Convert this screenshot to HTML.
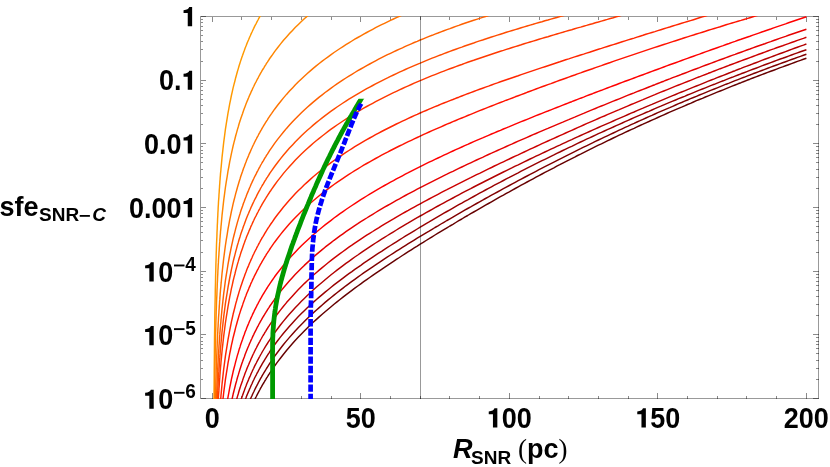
<!DOCTYPE html>
<html><head><meta charset="utf-8"><title>sfe vs R_SNR</title>
<style>html,body{margin:0;padding:0;background:#fff;}body{width:830px;height:467px;overflow:hidden;position:relative;font-family:"Liberation Sans",sans-serif;}</style></head>
<body>
<svg width="830" height="467" viewBox="0 0 830 467" style="display:block;position:absolute;left:0;top:0">
<defs><clipPath id="pc"><rect x="200" y="16" width="619" height="383"/></clipPath><clipPath id="gc"><rect x="200" y="98.8" width="619" height="301"/></clipPath></defs>
<rect width="830" height="467" fill="#fff"/>
<path d="M200.5 16.0V399.0M818.5 16.0V399.0M200.0 16.5H819.0M200.0 398.5H819.0" stroke="#000" stroke-opacity="0.40" stroke-width="1" fill="none" shape-rendering="crispEdges"/>
<path d="M212.5 398.5v-5.3M212.5 16.5v5.3M241.5 398.5v-3.0M241.5 16.5v3.0M271.5 398.5v-3.0M271.5 16.5v3.0M301.5 398.5v-3.0M301.5 16.5v3.0M331.5 398.5v-3.0M331.5 16.5v3.0M360.5 398.5v-5.3M360.5 16.5v5.3M390.5 398.5v-3.0M390.5 16.5v3.0M420.5 398.5v-3.0M420.5 16.5v3.0M449.5 398.5v-3.0M449.5 16.5v3.0M479.5 398.5v-3.0M479.5 16.5v3.0M509.5 398.5v-5.3M509.5 16.5v5.3M539.5 398.5v-3.0M539.5 16.5v3.0M568.5 398.5v-3.0M568.5 16.5v3.0M598.5 398.5v-3.0M598.5 16.5v3.0M628.5 398.5v-3.0M628.5 16.5v3.0M657.5 398.5v-5.3M657.5 16.5v5.3M687.5 398.5v-3.0M687.5 16.5v3.0M717.5 398.5v-3.0M717.5 16.5v3.0M746.5 398.5v-3.0M746.5 16.5v3.0M776.5 398.5v-3.0M776.5 16.5v3.0M806.5 398.5v-5.3M806.5 16.5v5.3M200.5 16.5h5.2M818.5 16.5h-5.2M200.5 61.5h2.6M818.5 61.5h-2.6M200.5 49.5h2.6M818.5 49.5h-2.6M200.5 41.5h2.6M818.5 41.5h-2.6M200.5 35.5h2.6M818.5 35.5h-2.6M200.5 30.5h2.6M818.5 30.5h-2.6M200.5 26.5h2.6M818.5 26.5h-2.6M200.5 22.5h2.6M818.5 22.5h-2.6M200.5 19.5h2.6M818.5 19.5h-2.6M200.5 80.5h5.2M818.5 80.5h-5.2M200.5 124.5h2.6M818.5 124.5h-2.6M200.5 113.5h2.6M818.5 113.5h-2.6M200.5 105.5h2.6M818.5 105.5h-2.6M200.5 99.5h2.6M818.5 99.5h-2.6M200.5 94.5h2.6M818.5 94.5h-2.6M200.5 90.5h2.6M818.5 90.5h-2.6M200.5 86.5h2.6M818.5 86.5h-2.6M200.5 83.5h2.6M818.5 83.5h-2.6M200.5 143.5h5.2M818.5 143.5h-5.2M200.5 188.5h2.6M818.5 188.5h-2.6M200.5 177.5h2.6M818.5 177.5h-2.6M200.5 169.5h2.6M818.5 169.5h-2.6M200.5 162.5h2.6M818.5 162.5h-2.6M200.5 157.5h2.6M818.5 157.5h-2.6M200.5 153.5h2.6M818.5 153.5h-2.6M200.5 150.5h2.6M818.5 150.5h-2.6M200.5 146.5h2.6M818.5 146.5h-2.6M200.5 207.5h5.2M818.5 207.5h-5.2M200.5 252.5h2.6M818.5 252.5h-2.6M200.5 240.5h2.6M818.5 240.5h-2.6M200.5 232.5h2.6M818.5 232.5h-2.6M200.5 226.5h2.6M818.5 226.5h-2.6M200.5 221.5h2.6M818.5 221.5h-2.6M200.5 217.5h2.6M818.5 217.5h-2.6M200.5 213.5h2.6M818.5 213.5h-2.6M200.5 210.5h2.6M818.5 210.5h-2.6M200.5 271.5h5.2M818.5 271.5h-5.2M200.5 315.5h2.6M818.5 315.5h-2.6M200.5 304.5h2.6M818.5 304.5h-2.6M200.5 296.5h2.6M818.5 296.5h-2.6M200.5 290.5h2.6M818.5 290.5h-2.6M200.5 285.5h2.6M818.5 285.5h-2.6M200.5 281.5h2.6M818.5 281.5h-2.6M200.5 277.5h2.6M818.5 277.5h-2.6M200.5 274.5h2.6M818.5 274.5h-2.6M200.5 334.5h5.2M818.5 334.5h-5.2M200.5 379.5h2.6M818.5 379.5h-2.6M200.5 368.5h2.6M818.5 368.5h-2.6M200.5 360.5h2.6M818.5 360.5h-2.6M200.5 353.5h2.6M818.5 353.5h-2.6M200.5 348.5h2.6M818.5 348.5h-2.6M200.5 344.5h2.6M818.5 344.5h-2.6M200.5 341.5h2.6M818.5 341.5h-2.6M200.5 337.5h2.6M818.5 337.5h-2.6M200.5 398.5h5.2M818.5 398.5h-5.2" stroke="#000" stroke-opacity="0.46" stroke-width="1" fill="none" shape-rendering="crispEdges"/>
<g clip-path="url(#pc)" fill="none" stroke-linejoin="round">
<g stroke-width="1.45">
<path d="M213.8 474.9L213.9 424.4L214.1 393.3L214.2 370.7L214.4 353.0L214.5 338.4L214.7 326.0L214.8 315.2L215.0 305.6L215.2 297.1L215.3 289.3L215.5 282.2L215.6 275.7L215.8 269.6L215.9 264.0L216.1 258.7L216.2 253.7L216.4 249.0L216.5 244.6L216.7 240.4L216.9 236.4L217.0 232.5L217.2 228.9L217.3 225.4L217.5 222.0L217.6 218.8L217.8 215.7L217.9 212.7L218.1 209.8L218.2 207.0L218.4 204.3L218.5 201.7L218.7 199.2L218.9 196.7L219.0 194.3L219.2 192.0L219.3 189.7L219.5 187.5L219.6 185.4L219.8 183.3L219.9 181.3L220.1 179.3L220.2 177.3L220.4 175.4L220.5 173.6L220.7 171.8L220.9 170.0L221.0 168.3L221.2 166.6L222.0 157.7L222.9 149.7L223.7 142.4L224.6 135.6L225.4 129.4L226.3 123.6L227.2 118.2L228.0 113.2L228.9 108.4L229.7 103.9L230.6 99.6L231.4 95.5L232.3 91.6L233.1 87.9L234.0 84.4L234.9 81.0L235.7 77.7L236.6 74.5L237.4 71.5L238.3 68.6L239.1 65.8L240.0 63.0L240.8 60.4L241.7 57.8L242.6 55.3L243.4 52.9L244.3 50.6L245.1 48.3L246.0 46.1L246.8 43.9L247.7 41.8L248.6 39.8L249.4 37.8L250.3 35.8L251.1 33.9L252.0 32.0L252.8 30.2L253.7 28.4L254.5 26.6L255.4 24.9L256.3 23.3L257.1 21.6L258.0 20.0L258.8 18.4L259.7 16.9L260.5 15.3L261.4 13.8L262.2 12.4L263.1 10.9L264.0 9.5L264.8 8.1L265.7 6.7L266.5 5.4L267.4 4.0L268.2 2.7L269.1 1.4L269.9 0.2L270.8 -1.1" stroke="rgb(255,153,0)"/>
<path d="M214.1 451.3L214.2 428.8L214.4 411.0L214.5 396.4L214.7 384.0L214.8 373.2L215.0 363.7L215.2 355.1L215.3 347.4L215.5 340.3L215.6 333.7L215.8 327.7L215.9 322.0L216.1 316.7L216.2 311.8L216.4 307.1L216.5 302.7L216.7 298.4L216.9 294.4L217.0 290.6L217.2 287.0L217.3 283.5L217.5 280.1L217.6 276.9L217.8 273.8L217.9 270.8L218.1 267.9L218.2 265.1L218.4 262.4L218.5 259.8L218.7 257.2L218.9 254.8L219.0 252.4L219.2 250.1L219.3 247.8L219.5 245.6L219.6 243.5L219.8 241.4L219.9 239.3L220.1 237.3L220.2 235.4L220.4 233.5L220.5 231.7L220.7 229.8L220.9 228.1L221.0 226.3L221.2 224.6L222.0 215.7L222.9 207.7L223.7 200.4L224.6 193.7L225.4 187.5L226.3 181.7L227.2 176.3L228.0 171.2L228.9 166.5L229.7 161.9L230.6 157.7L231.4 153.6L232.3 149.7L233.1 146.0L234.0 142.4L234.9 139.0L235.7 135.8L236.6 132.6L237.4 129.6L238.3 126.7L239.1 123.8L240.0 121.1L240.8 118.5L241.7 115.9L242.6 113.4L243.4 111.0L244.3 108.6L245.1 106.4L246.0 104.1L246.8 102.0L247.7 99.9L248.6 97.8L249.4 95.8L250.3 93.9L251.1 91.9L252.0 90.1L252.8 88.3L253.7 86.5L254.5 84.7L255.4 83.0L256.3 81.3L257.1 79.7L258.0 78.1L258.8 76.5L259.7 74.9L260.5 73.4L261.4 71.9L262.2 70.4L263.1 69.0L264.0 67.6L264.8 66.2L265.7 64.8L266.5 63.4L267.4 62.1L268.2 60.8L269.1 59.5L269.9 58.2L270.8 57.0L271.7 55.8L274.6 51.6L277.6 47.7L280.6 43.9L283.5 40.3L286.5 36.9L289.5 33.6L292.5 30.4L295.4 27.3L298.4 24.4L301.4 21.5L304.3 18.8L307.3 16.1L310.3 13.5L313.2 11.0L316.2 8.6L319.2 6.2L322.2 3.9L325.1 1.6L328.1 -0.5" stroke="rgb(255,134,0)"/>
<path d="M214.8 431.3L215.0 421.8L215.2 413.2L215.3 405.5L215.5 398.4L215.6 391.8L215.8 385.8L215.9 380.1L216.1 374.8L216.2 369.9L216.4 365.2L216.5 360.7L216.7 356.5L216.9 352.5L217.0 348.7L217.2 345.0L217.3 341.5L217.5 338.2L217.6 334.9L217.8 331.8L217.9 328.8L218.1 326.0L218.2 323.2L218.4 320.5L218.5 317.8L218.7 315.3L218.9 312.8L219.0 310.4L219.2 308.1L219.3 305.9L219.5 303.7L219.6 301.5L219.8 299.4L219.9 297.4L220.1 295.4L220.2 293.4L220.4 291.5L220.5 289.7L220.7 287.9L220.9 286.1L221.0 284.4L221.2 282.7L222.0 273.8L222.9 265.7L223.7 258.4L224.6 251.7L225.4 245.5L226.3 239.7L227.2 234.3L228.0 229.2L228.9 224.4L229.7 219.9L230.6 215.6L231.4 211.5L232.3 207.6L233.1 203.9L234.0 200.3L234.9 196.9L235.7 193.6L236.6 190.5L237.4 187.5L238.3 184.5L239.1 181.7L240.0 179.0L240.8 176.3L241.7 173.7L242.6 171.2L243.4 168.8L244.3 166.5L245.1 164.2L246.0 162.0L246.8 159.8L247.7 157.7L248.6 155.6L249.4 153.6L250.3 151.6L251.1 149.7L252.0 147.8L252.8 146.0L253.7 144.2L254.5 142.5L255.4 140.7L256.3 139.0L257.1 137.4L258.0 135.8L258.8 134.2L259.7 132.6L260.5 131.1L261.4 129.6L262.2 128.1L263.1 126.7L264.0 125.2L264.8 123.8L265.7 122.4L266.5 121.1L267.4 119.8L268.2 118.4L269.1 117.1L269.9 115.9L270.8 114.6L271.7 113.4L274.6 109.2L277.6 105.3L280.6 101.5L283.5 97.9L286.5 94.4L289.5 91.1L292.5 87.9L295.4 84.8L298.4 81.8L301.4 79.0L304.3 76.2L307.3 73.5L310.3 70.9L313.2 68.4L316.2 65.9L319.2 63.5L322.2 61.2L325.1 59.0L328.1 56.8L331.1 54.6L334.0 52.5L337.0 50.5L340.0 48.5L343.0 46.6L345.9 44.7L348.9 42.8L351.9 41.0L354.8 39.2L357.8 37.5L360.8 35.8L363.7 34.1L366.7 32.5L369.7 30.9L372.7 29.3L375.6 27.7L378.6 26.2L381.6 24.7L384.5 23.3L387.5 21.8L390.5 20.4L393.5 19.0L396.4 17.6L399.4 16.3L402.4 15.0L405.3 13.7L408.3 12.4L411.3 11.1L414.2 9.8L417.2 8.6L420.2 7.4L423.2 6.2L426.1 5.0L429.1 3.9L432.1 2.7L435.0 1.6L438.0 0.5L441.0 -0.6" stroke="rgb(255,115,0)"/>
<path d="M215.5 434.0L215.6 427.5L215.8 421.4L215.9 415.7L216.1 410.4L216.2 405.5L216.4 400.8L216.5 396.3L216.7 392.1L216.9 388.1L217.0 384.3L217.2 380.6L217.3 377.1L217.5 373.7L217.6 370.5L217.8 367.4L217.9 364.4L218.1 361.5L218.2 358.7L218.4 355.9L218.5 353.3L218.7 350.8L218.9 348.3L219.0 345.9L219.2 343.6L219.3 341.3L219.5 339.1L219.6 337.0L219.8 334.9L219.9 332.8L220.1 330.8L220.2 328.9L220.4 327.0L220.5 325.1L220.7 323.3L220.9 321.5L221.0 319.7L221.2 318.0L222.0 309.1L222.9 301.1L223.7 293.7L224.6 287.0L225.4 280.7L226.3 274.9L227.2 269.5L228.0 264.4L228.9 259.5L229.7 255.0L230.6 250.7L231.4 246.6L232.3 242.7L233.1 238.9L234.0 235.3L234.9 231.9L235.7 228.6L236.6 225.4L237.4 222.4L238.3 219.4L239.1 216.6L240.0 213.8L240.8 211.1L241.7 208.5L242.6 206.0L243.4 203.6L244.3 201.2L245.1 198.9L246.0 196.7L246.8 194.5L247.7 192.4L248.6 190.3L249.4 188.2L250.3 186.3L251.1 184.3L252.0 182.4L252.8 180.6L253.7 178.8L254.5 177.0L255.4 175.3L256.3 173.6L257.1 171.9L258.0 170.3L258.8 168.7L259.7 167.1L260.5 165.5L261.4 164.0L262.2 162.5L263.1 161.1L264.0 159.6L264.8 158.2L265.7 156.8L266.5 155.4L267.4 154.1L268.2 152.8L269.1 151.4L269.9 150.2L270.8 148.9L271.7 147.6L274.6 143.4L277.6 139.4L280.6 135.6L283.5 132.0L286.5 128.4L289.5 125.1L292.5 121.8L295.4 118.7L298.4 115.7L301.4 112.8L304.3 110.0L307.3 107.3L310.3 104.6L313.2 102.1L316.2 99.6L319.2 97.1L322.2 94.8L325.1 92.5L328.1 90.3L331.1 88.1L334.0 86.0L337.0 83.9L340.0 81.9L343.0 79.9L345.9 78.0L348.9 76.1L351.9 74.3L354.8 72.5L357.8 70.7L360.8 69.0L363.7 67.3L366.7 65.6L369.7 64.0L372.7 62.4L375.6 60.8L378.6 59.2L381.6 57.7L384.5 56.2L387.5 54.7L390.5 53.3L393.5 51.9L396.4 50.5L399.4 49.1L402.4 47.8L405.3 46.4L408.3 45.1L411.3 43.8L414.2 42.5L417.2 41.3L420.2 40.0L423.2 38.8L426.1 37.6L429.1 36.4L432.1 35.3L435.0 34.1L438.0 33.0L441.0 31.8L443.9 30.7L446.9 29.6L449.9 28.6L452.9 27.5L455.8 26.4L458.8 25.4L461.8 24.3L464.7 23.3L467.7 22.3L470.7 21.3L473.7 20.3L476.6 19.4L479.6 18.4L482.6 17.4L485.5 16.5L488.5 15.6L491.5 14.6L494.4 13.7L497.4 12.8L500.4 11.9L503.4 11.0L506.3 10.2L509.3 9.3L512.3 8.4L515.2 7.6L518.2 6.7L521.2 5.9L524.2 5.1L527.1 4.3L530.1 3.5L533.1 2.6L536.0 1.9L539.0 1.1L542.0 0.3L544.9 -0.5" stroke="rgb(255,96,0)"/>
<path d="M216.1 433.5L216.2 428.5L216.4 423.8L216.5 419.4L216.7 415.2L216.9 411.2L217.0 407.3L217.2 403.7L217.3 400.1L217.5 396.8L217.6 393.5L217.8 390.4L217.9 387.4L218.1 384.5L218.2 381.7L218.4 379.0L218.5 376.4L218.7 373.8L218.9 371.4L219.0 369.0L219.2 366.6L219.3 364.4L219.5 362.1L219.6 360.0L219.8 357.9L219.9 355.8L220.1 353.9L220.2 351.9L220.4 350.0L220.5 348.1L220.7 346.3L220.9 344.5L221.0 342.8L221.2 341.1L222.0 332.1L222.9 324.1L223.7 316.7L224.6 310.0L225.4 303.7L226.3 297.9L227.2 292.5L228.0 287.3L228.9 282.5L229.7 278.0L230.6 273.7L231.4 269.6L232.3 265.6L233.1 261.9L234.0 258.3L234.9 254.9L235.7 251.6L236.6 248.4L237.4 245.3L238.3 242.4L239.1 239.5L240.0 236.8L240.8 234.1L241.7 231.5L242.6 229.0L243.4 226.6L244.3 224.2L245.1 221.9L246.0 219.6L246.8 217.5L247.7 215.3L248.6 213.3L249.4 211.2L250.3 209.2L251.1 207.3L252.0 205.4L252.8 203.6L253.7 201.8L254.5 200.0L255.4 198.3L256.3 196.6L257.1 194.9L258.0 193.2L258.8 191.6L259.7 190.1L260.5 188.5L261.4 187.0L262.2 185.5L263.1 184.1L264.0 182.6L264.8 181.2L265.7 179.8L266.5 178.4L267.4 177.1L268.2 175.8L269.1 174.5L269.9 173.2L270.8 171.9L271.7 170.6L274.6 166.5L277.6 162.5L280.6 158.6L283.5 155.0L286.5 151.5L289.5 148.1L292.5 144.9L295.4 141.8L298.4 138.8L301.4 135.8L304.3 133.0L307.3 130.3L310.3 127.7L313.2 125.1L316.2 122.6L319.2 120.2L322.2 117.9L325.1 115.6L328.1 113.4L331.1 111.2L334.0 109.1L337.0 107.0L340.0 105.0L343.0 103.0L345.9 101.1L348.9 99.2L351.9 97.4L354.8 95.6L357.8 93.8L360.8 92.1L363.7 90.4L366.7 88.7L369.7 87.1L372.7 85.5L375.6 83.9L378.6 82.3L381.6 80.8L384.5 79.3L387.5 77.9L390.5 76.4L393.5 75.0L396.4 73.6L399.4 72.2L402.4 70.8L405.3 69.5L408.3 68.2L411.3 66.9L414.2 65.6L417.2 64.3L420.2 63.1L423.2 61.8L426.1 60.6L429.1 59.4L432.1 58.2L435.0 57.1L438.0 55.9L441.0 54.8L443.9 53.6L446.9 52.5L449.9 51.4L452.9 50.3L455.8 49.2L458.8 48.1L461.8 47.1L464.7 46.0L467.7 45.0L470.7 44.0L473.7 43.0L476.6 41.9L479.6 40.9L482.6 40.0L485.5 39.0L488.5 38.0L491.5 37.0L494.4 36.1L497.4 35.1L500.4 34.2L503.4 33.3L506.3 32.3L509.3 31.4L512.3 30.5L515.2 29.6L518.2 28.7L521.2 27.8L524.2 26.9L527.1 26.0L530.1 25.1L533.1 24.3L536.0 23.4L539.0 22.5L542.0 21.7L544.9 20.8L547.9 20.0L550.9 19.1L553.9 18.3L556.8 17.5L559.8 16.6L562.8 15.8L565.7 15.0L568.7 14.2L571.7 13.4L574.7 12.5L577.6 11.7L580.6 10.9L583.6 10.1L586.5 9.3L589.5 8.5L592.5 7.7L595.4 6.9L598.4 6.2L601.4 5.4L604.4 4.6L607.3 3.8L610.3 3.0L613.3 2.2L616.2 1.5L619.2 0.7L622.2 -0.1" stroke="rgb(255,76,0)"/>
<path d="M216.9 430.7L217.0 426.9L217.2 423.2L217.3 419.7L217.5 416.3L217.6 413.1L217.8 410.0L217.9 407.0L218.1 404.0L218.2 401.2L218.4 398.5L218.5 395.9L218.7 393.3L218.9 390.9L219.0 388.5L219.2 386.1L219.3 383.8L219.5 381.6L219.6 379.5L219.8 377.4L219.9 375.3L220.1 373.3L220.2 371.3L220.4 369.4L220.5 367.6L220.7 365.7L220.9 363.9L221.0 362.2L221.2 360.5L222.0 351.5L222.9 343.4L223.7 336.1L224.6 329.3L225.4 323.0L226.3 317.2L227.2 311.7L228.0 306.6L228.9 301.7L229.7 297.2L230.6 292.8L231.4 288.7L232.3 284.8L233.1 281.0L234.0 277.4L234.9 274.0L235.7 270.6L236.6 267.4L237.4 264.4L238.3 261.4L239.1 258.5L240.0 255.8L240.8 253.1L241.7 250.5L242.6 247.9L243.4 245.5L244.3 243.1L245.1 240.8L246.0 238.5L246.8 236.3L247.7 234.2L248.6 232.1L249.4 230.1L250.3 228.1L251.1 226.1L252.0 224.2L252.8 222.4L253.7 220.5L254.5 218.7L255.4 217.0L256.3 215.3L257.1 213.6L258.0 212.0L258.8 210.3L259.7 208.8L260.5 207.2L261.4 205.7L262.2 204.2L263.1 202.7L264.0 201.2L264.8 199.8L265.7 198.4L266.5 197.0L267.4 195.7L268.2 194.3L269.1 193.0L269.9 191.7L270.8 190.5L271.7 189.2L274.6 185.0L277.6 180.9L280.6 177.1L283.5 173.4L286.5 169.9L289.5 166.5L292.5 163.2L295.4 160.1L298.4 157.0L301.4 154.1L304.3 151.3L307.3 148.5L310.3 145.9L313.2 143.3L316.2 140.8L319.2 138.4L322.2 136.0L325.1 133.7L328.1 131.4L331.1 129.2L334.0 127.1L337.0 125.0L340.0 123.0L343.0 121.0L345.9 119.1L348.9 117.2L351.9 115.3L354.8 113.5L357.8 111.7L360.8 109.9L363.7 108.2L366.7 106.5L369.7 104.9L372.7 103.3L375.6 101.7L378.6 100.1L381.6 98.6L384.5 97.1L387.5 95.6L390.5 94.1L393.5 92.7L396.4 91.3L399.4 89.9L402.4 88.5L405.3 87.1L408.3 85.8L411.3 84.5L414.2 83.2L417.2 81.9L420.2 80.6L423.2 79.4L426.1 78.2L429.1 76.9L432.1 75.7L435.0 74.6L438.0 73.4L441.0 72.2L443.9 71.1L446.9 69.9L449.9 68.8L452.9 67.7L455.8 66.6L458.8 65.5L461.8 64.5L464.7 63.4L467.7 62.3L470.7 61.3L473.7 60.3L476.6 59.2L479.6 58.2L482.6 57.2L485.5 56.2L488.5 55.2L491.5 54.2L494.4 53.3L497.4 52.3L500.4 51.3L503.4 50.4L506.3 49.4L509.3 48.5L512.3 47.5L515.2 46.6L518.2 45.7L521.2 44.8L524.2 43.8L527.1 42.9L530.1 42.0L533.1 41.1L536.0 40.2L539.0 39.3L542.0 38.4L544.9 37.5L547.9 36.7L550.9 35.8L553.9 34.9L556.8 34.0L559.8 33.1L562.8 32.3L565.7 31.4L568.7 30.5L571.7 29.7L574.7 28.8L577.6 27.9L580.6 27.1L583.6 26.2L586.5 25.4L589.5 24.5L592.5 23.7L595.4 22.8L598.4 22.0L601.4 21.1L604.4 20.2L607.3 19.4L610.3 18.5L613.3 17.7L616.2 16.8L619.2 16.0L622.2 15.1L625.1 14.3L628.1 13.4L631.1 12.6L634.1 11.7L637.0 10.9L640.0 10.0L643.0 9.2L645.9 8.3L648.9 7.4L651.9 6.6L654.9 5.7L657.8 4.9L660.8 4.0L663.8 3.2L666.7 2.3L669.7 1.4L672.7 0.6L675.6 -0.3" stroke="rgb(255,57,0)"/>
<path d="M218.4 431.3L218.5 428.6L218.7 426.1L218.9 423.6L219.0 421.2L219.2 418.9L219.3 416.6L219.5 414.4L219.6 412.3L219.8 410.2L219.9 408.1L220.1 406.1L220.2 404.2L220.4 402.3L220.5 400.4L220.7 398.6L220.9 396.8L221.0 395.1L221.2 393.4L222.0 384.5L222.9 376.4L223.7 369.1L224.6 362.3L225.4 356.1L226.3 350.3L227.2 344.8L228.0 339.7L228.9 334.9L229.7 330.3L230.6 326.0L231.4 321.9L232.3 318.0L233.1 314.3L234.0 310.7L234.9 307.2L235.7 303.9L236.6 300.8L237.4 297.7L238.3 294.7L239.1 291.9L240.0 289.1L240.8 286.5L241.7 283.9L242.6 281.3L243.4 278.9L244.3 276.5L245.1 274.2L246.0 272.0L246.8 269.8L247.7 267.6L248.6 265.6L249.4 263.5L250.3 261.5L251.1 259.6L252.0 257.7L252.8 255.8L253.7 254.0L254.5 252.3L255.4 250.5L256.3 248.8L257.1 247.1L258.0 245.5L258.8 243.9L259.7 242.3L260.5 240.7L261.4 239.2L262.2 237.7L263.1 236.3L264.0 234.8L264.8 233.4L265.7 232.0L266.5 230.6L267.4 229.2L268.2 227.9L269.1 226.6L269.9 225.3L270.8 224.0L271.7 222.8L274.6 218.5L277.6 214.5L280.6 210.7L283.5 207.0L286.5 203.5L289.5 200.1L292.5 196.8L295.4 193.6L298.4 190.6L301.4 187.7L304.3 184.8L307.3 182.1L310.3 179.4L313.2 176.8L316.2 174.3L319.2 171.8L322.2 169.5L325.1 167.1L328.1 164.9L331.1 162.7L334.0 160.5L337.0 158.4L340.0 156.4L343.0 154.4L345.9 152.4L348.9 150.5L351.9 148.6L354.8 146.7L357.8 144.9L360.8 143.1L363.7 141.4L366.7 139.7L369.7 138.0L372.7 136.3L375.6 134.7L378.6 133.1L381.6 131.5L384.5 130.0L387.5 128.5L390.5 127.0L393.5 125.5L396.4 124.0L399.4 122.6L402.4 121.2L405.3 119.8L408.3 118.4L411.3 117.0L414.2 115.7L417.2 114.4L420.2 113.0L423.2 111.7L426.1 110.5L429.1 109.2L432.1 107.9L435.0 106.7L438.0 105.5L441.0 104.2L443.9 103.0L446.9 101.8L449.9 100.6L452.9 99.5L455.8 98.3L458.8 97.2L461.8 96.0L464.7 94.9L467.7 93.7L470.7 92.6L473.7 91.5L476.6 90.4L479.6 89.3L482.6 88.2L485.5 87.1L488.5 86.1L491.5 85.0L494.4 83.9L497.4 82.9L500.4 81.8L503.4 80.8L506.3 79.8L509.3 78.7L512.3 77.7L515.2 76.7L518.2 75.7L521.2 74.6L524.2 73.6L527.1 72.6L530.1 71.6L533.1 70.6L536.0 69.6L539.0 68.6L542.0 67.6L544.9 66.7L547.9 65.7L550.9 64.7L553.9 63.7L556.8 62.7L559.8 61.8L562.8 60.8L565.7 59.8L568.7 58.9L571.7 57.9L574.7 56.9L577.6 56.0L580.6 55.0L583.6 54.1L586.5 53.1L589.5 52.2L592.5 51.2L595.4 50.3L598.4 49.3L601.4 48.4L604.4 47.4L607.3 46.5L610.3 45.5L613.3 44.6L616.2 43.7L619.2 42.7L622.2 41.8L625.1 40.9L628.1 39.9L631.1 39.0L634.1 38.1L637.0 37.1L640.0 36.2L643.0 35.3L645.9 34.3L648.9 33.4L651.9 32.5L654.9 31.6L657.8 30.6L660.8 29.7L663.8 28.8L666.7 27.9L669.7 27.0L672.7 26.0L675.6 25.1L678.6 24.2L681.6 23.3L684.6 22.4L687.5 21.5L690.5 20.6L693.5 19.7L696.4 18.8L699.4 17.8L702.4 16.9L705.4 16.0L708.3 15.1L711.3 14.2L714.3 13.3L717.2 12.4L720.2 11.5L723.2 10.6L726.1 9.8L729.1 8.9L732.1 8.0L735.1 7.1L738.0 6.2L741.0 5.3L744.0 4.4L746.9 3.5L749.9 2.7L752.9 1.8L755.9 0.9L758.8 0.0L761.8 -0.9" stroke="rgb(255,38,0)"/>
<path d="M219.9 431.7L220.1 429.7L220.2 427.8L220.4 425.9L220.5 424.0L220.7 422.2L220.9 420.4L221.0 418.6L221.2 416.9L222.0 408.0L222.9 399.9L223.7 392.6L224.6 385.8L225.4 379.6L226.3 373.8L227.2 368.3L228.0 363.2L228.9 358.4L229.7 353.8L230.6 349.5L231.4 345.4L232.3 341.5L233.1 337.7L234.0 334.2L234.9 330.7L235.7 327.4L236.6 324.2L237.4 321.2L238.3 318.2L239.1 315.4L240.0 312.6L240.8 310.0L241.7 307.4L242.6 304.9L243.4 302.4L244.3 300.0L245.1 297.7L246.0 295.5L246.8 293.3L247.7 291.2L248.6 289.1L249.4 287.1L250.3 285.1L251.1 283.1L252.0 281.3L252.8 279.4L253.7 277.6L254.5 275.8L255.4 274.1L256.3 272.4L257.1 270.7L258.0 269.1L258.8 267.5L259.7 265.9L260.5 264.3L261.4 262.8L262.2 261.3L263.1 259.9L264.0 258.4L264.8 257.0L265.7 255.6L266.5 254.2L267.4 252.9L268.2 251.6L269.1 250.3L269.9 249.0L270.8 247.7L271.7 246.4L274.6 242.2L277.6 238.2L280.6 234.4L283.5 230.7L286.5 227.2L289.5 223.8L292.5 220.6L295.4 217.5L298.4 214.4L301.4 211.5L304.3 208.7L307.3 205.9L310.3 203.3L313.2 200.7L316.2 198.2L319.2 195.8L322.2 193.4L325.1 191.1L328.1 188.8L331.1 186.6L334.0 184.5L337.0 182.3L340.0 180.3L343.0 178.3L345.9 176.3L348.9 174.4L351.9 172.5L354.8 170.6L357.8 168.8L360.8 167.0L363.7 165.2L366.7 163.5L369.7 161.8L372.7 160.1L375.6 158.5L378.6 156.8L381.6 155.2L384.5 153.6L387.5 152.1L390.5 150.5L393.5 149.0L396.4 147.5L399.4 146.0L402.4 144.6L405.3 143.1L408.3 141.7L411.3 140.3L414.2 138.9L417.2 137.5L420.2 136.1L423.2 134.7L426.1 133.4L429.1 132.0L432.1 130.7L435.0 129.4L438.0 128.1L441.0 126.8L443.9 125.5L446.9 124.2L449.9 123.0L452.9 121.7L455.8 120.5L458.8 119.2L461.8 118.0L464.7 116.8L467.7 115.5L470.7 114.3L473.7 113.1L476.6 111.9L479.6 110.7L482.6 109.5L485.5 108.4L488.5 107.2L491.5 106.0L494.4 104.9L497.4 103.7L500.4 102.5L503.4 101.4L506.3 100.2L509.3 99.1L512.3 98.0L515.2 96.8L518.2 95.7L521.2 94.6L524.2 93.5L527.1 92.3L530.1 91.2L533.1 90.1L536.0 89.0L539.0 87.9L542.0 86.8L544.9 85.7L547.9 84.6L550.9 83.6L553.9 82.5L556.8 81.4L559.8 80.3L562.8 79.2L565.7 78.2L568.7 77.1L571.7 76.0L574.7 75.0L577.6 73.9L580.6 72.9L583.6 71.8L586.5 70.8L589.5 69.7L592.5 68.7L595.4 67.6L598.4 66.6L601.4 65.6L604.4 64.5L607.3 63.5L610.3 62.5L613.3 61.4L616.2 60.4L619.2 59.4L622.2 58.4L625.1 57.4L628.1 56.4L631.1 55.4L634.1 54.4L637.0 53.4L640.0 52.4L643.0 51.4L645.9 50.4L648.9 49.4L651.9 48.4L654.9 47.4L657.8 46.5L660.8 45.5L663.8 44.5L666.7 43.6L669.7 42.6L672.7 41.6L675.6 40.7L678.6 39.7L681.6 38.8L684.6 37.8L687.5 36.9L690.5 35.9L693.5 35.0L696.4 34.0L699.4 33.1L702.4 32.2L705.4 31.3L708.3 30.3L711.3 29.4L714.3 28.5L717.2 27.6L720.2 26.7L723.2 25.7L726.1 24.8L729.1 23.9L732.1 23.0L735.1 22.1L738.0 21.2L741.0 20.4L744.0 19.5L746.9 18.6L749.9 17.7L752.9 16.8L755.9 15.9L758.8 15.1L761.8 14.2L764.8 13.3L767.7 12.5L770.7 11.6L773.7 10.7L776.6 9.9L779.6 9.0L782.6 8.2L785.6 7.3L788.5 6.5L791.5 5.7L794.5 4.8L797.4 4.0L800.4 3.2L803.4 2.3L806.4 1.5" stroke="rgb(255,19,0)"/>
<path d="M222.9 433.6L223.7 426.3L224.6 419.6L225.4 413.4L226.3 407.6L227.2 402.2L228.0 397.1L228.9 392.3L229.7 387.8L230.6 383.5L231.4 379.4L232.3 375.5L233.1 371.8L234.0 368.3L234.9 364.9L235.7 361.6L236.6 358.4L237.4 355.4L238.3 352.5L239.1 349.6L240.0 346.9L240.8 344.2L241.7 341.7L242.6 339.2L243.4 336.7L244.3 334.4L245.1 332.1L246.0 329.9L246.8 327.7L247.7 325.6L248.6 323.5L249.4 321.5L250.3 319.5L251.1 317.6L252.0 315.7L252.8 313.9L253.7 312.1L254.5 310.3L255.4 308.6L256.3 306.9L257.1 305.2L258.0 303.6L258.8 302.0L259.7 300.4L260.5 298.9L261.4 297.4L262.2 295.9L263.1 294.4L264.0 293.0L264.8 291.6L265.7 290.2L266.5 288.8L267.4 287.5L268.2 286.1L269.1 284.8L269.9 283.6L270.8 282.3L271.7 281.0L274.6 276.8L277.6 272.8L280.6 269.0L283.5 265.3L286.5 261.7L289.5 258.3L292.5 255.1L295.4 251.9L298.4 248.8L301.4 245.8L304.3 243.0L307.3 240.2L310.3 237.5L313.2 234.8L316.2 232.2L319.2 229.7L322.2 227.3L325.1 224.9L328.1 222.6L331.1 220.3L334.0 218.0L337.0 215.9L340.0 213.7L343.0 211.6L345.9 209.5L348.9 207.5L351.9 205.5L354.8 203.6L357.8 201.6L360.8 199.7L363.7 197.9L366.7 196.0L369.7 194.2L372.7 192.4L375.6 190.7L378.6 188.9L381.6 187.2L384.5 185.5L387.5 183.8L390.5 182.2L393.5 180.6L396.4 178.9L399.4 177.4L402.4 175.8L405.3 174.2L408.3 172.7L411.3 171.1L414.2 169.6L417.2 168.1L420.2 166.6L423.2 165.1L426.1 163.7L429.1 162.2L432.1 160.8L435.0 159.4L438.0 158.0L441.0 156.6L443.9 155.2L446.9 153.8L449.9 152.4L452.9 151.0L455.8 149.7L458.8 148.3L461.8 147.0L464.7 145.7L467.7 144.4L470.7 143.0L473.7 141.7L476.6 140.4L479.6 139.1L482.6 137.9L485.5 136.6L488.5 135.3L491.5 134.0L494.4 132.8L497.4 131.5L500.4 130.3L503.4 129.0L506.3 127.8L509.3 126.6L512.3 125.3L515.2 124.1L518.2 122.9L521.2 121.7L524.2 120.5L527.1 119.3L530.1 118.1L533.1 116.9L536.0 115.7L539.0 114.5L542.0 113.3L544.9 112.1L547.9 111.0L550.9 109.8L553.9 108.6L556.8 107.5L559.8 106.3L562.8 105.1L565.7 104.0L568.7 102.8L571.7 101.7L574.7 100.5L577.6 99.4L580.6 98.2L583.6 97.1L586.5 95.9L589.5 94.8L592.5 93.7L595.4 92.5L598.4 91.4L601.4 90.3L604.4 89.1L607.3 88.0L610.3 86.9L613.3 85.8L616.2 84.7L619.2 83.5L622.2 82.4L625.1 81.3L628.1 80.2L631.1 79.1L634.1 78.0L637.0 76.9L640.0 75.8L643.0 74.7L645.9 73.6L648.9 72.5L651.9 71.4L654.9 70.3L657.8 69.2L660.8 68.1L663.8 67.0L666.7 65.9L669.7 64.8L672.7 63.7L675.6 62.7L678.6 61.6L681.6 60.5L684.6 59.4L687.5 58.4L690.5 57.3L693.5 56.2L696.4 55.1L699.4 54.1L702.4 53.0L705.4 51.9L708.3 50.9L711.3 49.8L714.3 48.7L717.2 47.7L720.2 46.6L723.2 45.6L726.1 44.5L729.1 43.5L732.1 42.4L735.1 41.4L738.0 40.3L741.0 39.3L744.0 38.2L746.9 37.2L749.9 36.2L752.9 35.1L755.9 34.1L758.8 33.1L761.8 32.0L764.8 31.0L767.7 30.0L770.7 29.0L773.7 27.9L776.6 26.9L779.6 25.9L782.6 24.9L785.6 23.9L788.5 22.8L791.5 21.8L794.5 20.8L797.4 19.8L800.4 18.8L803.4 17.8L806.4 16.8" stroke="rgb(255,0,0)"/>
<path d="M226.3 430.0L227.2 424.6L228.0 419.6L228.9 414.8L229.7 410.2L230.6 406.0L231.4 401.9L232.3 398.0L233.1 394.3L234.0 390.7L234.9 387.3L235.7 384.0L236.6 380.9L237.4 377.8L238.3 374.9L239.1 372.1L240.0 369.3L240.8 366.7L241.7 364.1L242.6 361.6L243.4 359.2L244.3 356.9L245.1 354.6L246.0 352.3L246.8 350.2L247.7 348.0L248.6 346.0L249.4 344.0L250.3 342.0L251.1 340.1L252.0 338.2L252.8 336.4L253.7 334.6L254.5 332.8L255.4 331.1L256.3 329.4L257.1 327.7L258.0 326.1L258.8 324.5L259.7 322.9L260.5 321.4L261.4 319.9L262.2 318.4L263.1 316.9L264.0 315.5L264.8 314.1L265.7 312.7L266.5 311.3L267.4 310.0L268.2 308.6L269.1 307.3L269.9 306.0L270.8 304.8L271.7 303.5L274.6 299.3L277.6 295.3L280.6 291.4L283.5 287.7L286.5 284.2L289.5 280.8L292.5 277.5L295.4 274.3L298.4 271.3L301.4 268.3L304.3 265.4L307.3 262.6L310.3 259.9L313.2 257.2L316.2 254.6L319.2 252.1L322.2 249.6L325.1 247.2L328.1 244.9L331.1 242.6L334.0 240.3L337.0 238.1L340.0 235.9L343.0 233.8L345.9 231.7L348.9 229.6L351.9 227.6L354.8 225.6L357.8 223.7L360.8 221.7L363.7 219.8L366.7 218.0L369.7 216.1L372.7 214.3L375.6 212.5L378.6 210.7L381.6 208.9L384.5 207.2L387.5 205.5L390.5 203.8L393.5 202.1L396.4 200.4L399.4 198.8L402.4 197.1L405.3 195.5L408.3 193.9L411.3 192.3L414.2 190.8L417.2 189.2L420.2 187.6L423.2 186.1L426.1 184.6L429.1 183.1L432.1 181.6L435.0 180.1L438.0 178.6L441.0 177.1L443.9 175.6L446.9 174.2L449.9 172.7L452.9 171.3L455.8 169.8L458.8 168.4L461.8 167.0L464.7 165.6L467.7 164.2L470.7 162.8L473.7 161.4L476.6 160.0L479.6 158.6L482.6 157.3L485.5 155.9L488.5 154.5L491.5 153.2L494.4 151.8L497.4 150.5L500.4 149.2L503.4 147.8L506.3 146.5L509.3 145.2L512.3 143.9L515.2 142.5L518.2 141.2L521.2 139.9L524.2 138.6L527.1 137.3L530.1 136.0L533.1 134.7L536.0 133.5L539.0 132.2L542.0 130.9L544.9 129.6L547.9 128.4L550.9 127.1L553.9 125.8L556.8 124.6L559.8 123.3L562.8 122.1L565.7 120.8L568.7 119.6L571.7 118.3L574.7 117.1L577.6 115.8L580.6 114.6L583.6 113.4L586.5 112.1L589.5 110.9L592.5 109.7L595.4 108.5L598.4 107.2L601.4 106.0L604.4 104.8L607.3 103.6L610.3 102.4L613.3 101.2L616.2 100.0L619.2 98.8L622.2 97.6L625.1 96.4L628.1 95.2L631.1 94.0L634.1 92.9L637.0 91.7L640.0 90.5L643.0 89.3L645.9 88.2L648.9 87.0L651.9 85.8L654.9 84.7L657.8 83.5L660.8 82.3L663.8 81.2L666.7 80.0L669.7 78.9L672.7 77.7L675.6 76.6L678.6 75.5L681.6 74.3L684.6 73.2L687.5 72.1L690.5 70.9L693.5 69.8L696.4 68.7L699.4 67.6L702.4 66.4L705.4 65.3L708.3 64.2L711.3 63.1L714.3 62.0L717.2 60.9L720.2 59.8L723.2 58.7L726.1 57.6L729.1 56.5L732.1 55.4L735.1 54.4L738.0 53.3L741.0 52.2L744.0 51.1L746.9 50.0L749.9 49.0L752.9 47.9L755.9 46.8L758.8 45.8L761.8 44.7L764.8 43.7L767.7 42.6L770.7 41.6L773.7 40.5L776.6 39.5L779.6 38.4L782.6 37.4L785.6 36.4L788.5 35.3L791.5 34.3L794.5 33.3L797.4 32.3L800.4 31.2L803.4 30.2L806.4 29.2" stroke="rgb(230,0,0)"/>
<path d="M228.9 433.5L229.7 429.0L230.6 424.7L231.4 420.6L232.3 416.8L233.1 413.0L234.0 409.5L234.9 406.1L235.7 402.8L236.6 399.6L237.4 396.6L238.3 393.7L239.1 390.8L240.0 388.1L240.8 385.4L241.7 382.9L242.6 380.4L243.4 377.9L244.3 375.6L245.1 373.3L246.0 371.1L246.8 368.9L247.7 366.8L248.6 364.7L249.4 362.7L250.3 360.7L251.1 358.8L252.0 356.9L252.8 355.0L253.7 353.2L254.5 351.5L255.4 349.7L256.3 348.0L257.1 346.4L258.0 344.7L258.8 343.1L259.7 341.6L260.5 340.0L261.4 338.5L262.2 337.0L263.1 335.5L264.0 334.1L264.8 332.7L265.7 331.3L266.5 329.9L267.4 328.5L268.2 327.2L269.1 325.9L269.9 324.6L270.8 323.3L271.7 322.1L274.6 317.8L277.6 313.8L280.6 309.9L283.5 306.2L286.5 302.6L289.5 299.2L292.5 295.9L295.4 292.7L298.4 289.6L301.4 286.5L304.3 283.6L307.3 280.8L310.3 278.0L313.2 275.3L316.2 272.7L319.2 270.1L322.2 267.6L325.1 265.2L328.1 262.8L331.1 260.4L334.0 258.1L337.0 255.9L340.0 253.7L343.0 251.5L345.9 249.3L348.9 247.2L351.9 245.2L354.8 243.1L357.8 241.1L360.8 239.1L363.7 237.2L366.7 235.2L369.7 233.3L372.7 231.5L375.6 229.6L378.6 227.8L381.6 225.9L384.5 224.1L387.5 222.4L390.5 220.6L393.5 218.9L396.4 217.1L399.4 215.4L402.4 213.7L405.3 212.0L408.3 210.4L411.3 208.7L414.2 207.1L417.2 205.4L420.2 203.8L423.2 202.2L426.1 200.6L429.1 199.0L432.1 197.4L435.0 195.9L438.0 194.3L441.0 192.7L443.9 191.2L446.9 189.7L449.9 188.1L452.9 186.6L455.8 185.1L458.8 183.6L461.8 182.1L464.7 180.6L467.7 179.1L470.7 177.7L473.7 176.2L476.6 174.7L479.6 173.3L482.6 171.8L485.5 170.4L488.5 168.9L491.5 167.5L494.4 166.0L497.4 164.6L500.4 163.2L503.4 161.8L506.3 160.4L509.3 159.0L512.3 157.5L515.2 156.1L518.2 154.8L521.2 153.4L524.2 152.0L527.1 150.6L530.1 149.2L533.1 147.8L536.0 146.5L539.0 145.1L542.0 143.7L544.9 142.4L547.9 141.0L550.9 139.7L553.9 138.3L556.8 137.0L559.8 135.6L562.8 134.3L565.7 133.0L568.7 131.6L571.7 130.3L574.7 129.0L577.6 127.7L580.6 126.3L583.6 125.0L586.5 123.7L589.5 122.4L592.5 121.1L595.4 119.8L598.4 118.5L601.4 117.2L604.4 116.0L607.3 114.7L610.3 113.4L613.3 112.1L616.2 110.8L619.2 109.6L622.2 108.3L625.1 107.1L628.1 105.8L631.1 104.5L634.1 103.3L637.0 102.1L640.0 100.8L643.0 99.6L645.9 98.3L648.9 97.1L651.9 95.9L654.9 94.7L657.8 93.4L660.8 92.2L663.8 91.0L666.7 89.8L669.7 88.6L672.7 87.4L675.6 86.2L678.6 85.0L681.6 83.8L684.6 82.6L687.5 81.5L690.5 80.3L693.5 79.1L696.4 77.9L699.4 76.8L702.4 75.6L705.4 74.5L708.3 73.3L711.3 72.2L714.3 71.0L717.2 69.9L720.2 68.7L723.2 67.6L726.1 66.5L729.1 65.3L732.1 64.2L735.1 63.1L738.0 62.0L741.0 60.9L744.0 59.8L746.9 58.7L749.9 57.6L752.9 56.5L755.9 55.4L758.8 54.3L761.8 53.2L764.8 52.1L767.7 51.0L770.7 49.9L773.7 48.9L776.6 47.8L779.6 46.7L782.6 45.7L785.6 44.6L788.5 43.6L791.5 42.5L794.5 41.5L797.4 40.4L800.4 39.4L803.4 38.4L806.4 37.3" stroke="rgb(204,0,0)"/>
<path d="M232.3 431.7L233.1 428.0L234.0 424.4L234.9 421.0L235.7 417.7L236.6 414.6L237.4 411.5L238.3 408.6L239.1 405.8L240.0 403.0L240.8 400.4L241.7 397.8L242.6 395.3L243.4 392.9L244.3 390.5L245.1 388.2L246.0 386.0L246.8 383.8L247.7 381.7L248.6 379.6L249.4 377.6L250.3 375.7L251.1 373.7L252.0 371.8L252.8 370.0L253.7 368.2L254.5 366.4L255.4 364.7L256.3 363.0L257.1 361.3L258.0 359.7L258.8 358.1L259.7 356.5L260.5 355.0L261.4 353.5L262.2 352.0L263.1 350.5L264.0 349.0L264.8 347.6L265.7 346.2L266.5 344.9L267.4 343.5L268.2 342.2L269.1 340.8L269.9 339.6L270.8 338.3L271.7 337.0L274.6 332.8L277.6 328.7L280.6 324.8L283.5 321.1L286.5 317.5L289.5 314.1L292.5 310.7L295.4 307.5L298.4 304.4L301.4 301.3L304.3 298.4L307.3 295.5L310.3 292.7L313.2 290.0L316.2 287.3L319.2 284.7L322.2 282.2L325.1 279.7L328.1 277.2L331.1 274.8L334.0 272.5L337.0 270.2L340.0 267.9L343.0 265.6L345.9 263.4L348.9 261.3L351.9 259.1L354.8 257.0L357.8 255.0L360.8 252.9L363.7 250.9L366.7 248.9L369.7 246.9L372.7 244.9L375.6 243.0L378.6 241.1L381.6 239.2L384.5 237.3L387.5 235.5L390.5 233.6L393.5 231.8L396.4 230.0L399.4 228.2L402.4 226.4L405.3 224.6L408.3 222.9L411.3 221.1L414.2 219.4L417.2 217.7L420.2 216.0L423.2 214.3L426.1 212.6L429.1 211.0L432.1 209.3L435.0 207.7L438.0 206.0L441.0 204.4L443.9 202.8L446.9 201.2L449.9 199.6L452.9 198.0L455.8 196.4L458.8 194.8L461.8 193.2L464.7 191.7L467.7 190.1L470.7 188.6L473.7 187.0L476.6 185.5L479.6 184.0L482.6 182.5L485.5 181.0L488.5 179.5L491.5 178.0L494.4 176.5L497.4 175.0L500.4 173.5L503.4 172.0L506.3 170.6L509.3 169.1L512.3 167.7L515.2 166.2L518.2 164.8L521.2 163.3L524.2 161.9L527.1 160.5L530.1 159.0L533.1 157.6L536.0 156.2L539.0 154.8L542.0 153.4L544.9 152.0L547.9 150.6L550.9 149.2L553.9 147.8L556.8 146.4L559.8 145.1L562.8 143.7L565.7 142.3L568.7 140.9L571.7 139.6L574.7 138.2L577.6 136.9L580.6 135.5L583.6 134.2L586.5 132.9L589.5 131.5L592.5 130.2L595.4 128.9L598.4 127.5L601.4 126.2L604.4 124.9L607.3 123.6L610.3 122.3L613.3 121.0L616.2 119.7L619.2 118.4L622.2 117.1L625.1 115.8L628.1 114.5L631.1 113.2L634.1 112.0L637.0 110.7L640.0 109.4L643.0 108.2L645.9 106.9L648.9 105.6L651.9 104.4L654.9 103.1L657.8 101.9L660.8 100.6L663.8 99.4L666.7 98.2L669.7 96.9L672.7 95.7L675.6 94.5L678.6 93.2L681.6 92.0L684.6 90.8L687.5 89.6L690.5 88.4L693.5 87.2L696.4 86.0L699.4 84.8L702.4 83.6L705.4 82.4L708.3 81.2L711.3 80.0L714.3 78.9L717.2 77.7L720.2 76.5L723.2 75.3L726.1 74.2L729.1 73.0L732.1 71.8L735.1 70.7L738.0 69.5L741.0 68.4L744.0 67.2L746.9 66.1L749.9 65.0L752.9 63.8L755.9 62.7L758.8 61.6L761.8 60.4L764.8 59.3L767.7 58.2L770.7 57.1L773.7 56.0L776.6 54.9L779.6 53.8L782.6 52.7L785.6 51.6L788.5 50.5L791.5 49.4L794.5 48.3L797.4 47.2L800.4 46.1L803.4 45.1L806.4 44.0" stroke="rgb(178,0,0)"/>
<path d="M234.9 432.7L235.7 429.5L236.6 426.3L237.4 423.3L238.3 420.3L239.1 417.5L240.0 414.8L240.8 412.1L241.7 409.6L242.6 407.1L243.4 404.6L244.3 402.3L245.1 400.0L246.0 397.8L246.8 395.6L247.7 393.5L248.6 391.4L249.4 389.4L250.3 387.5L251.1 385.5L252.0 383.7L252.8 381.8L253.7 380.0L254.5 378.3L255.4 376.5L256.3 374.8L257.1 373.2L258.0 371.6L258.8 370.0L259.7 368.4L260.5 366.9L261.4 365.3L262.2 363.9L263.1 362.4L264.0 361.0L264.8 359.6L265.7 358.2L266.5 356.8L267.4 355.4L268.2 354.1L269.1 352.8L269.9 351.5L270.8 350.3L271.7 349.0L274.6 344.8L277.6 340.8L280.6 336.9L283.5 333.2L286.5 329.7L289.5 326.2L292.5 322.9L295.4 319.7L298.4 316.6L301.4 313.6L304.3 310.7L307.3 307.8L310.3 305.1L313.2 302.4L316.2 299.7L319.2 297.1L322.2 294.6L325.1 292.1L328.1 289.7L331.1 287.3L334.0 284.9L337.0 282.6L340.0 280.3L343.0 278.1L345.9 275.9L348.9 273.7L351.9 271.6L354.8 269.4L357.8 267.3L360.8 265.3L363.7 263.2L366.7 261.2L369.7 259.1L372.7 257.1L375.6 255.2L378.6 253.2L381.6 251.3L384.5 249.3L387.5 247.4L390.5 245.5L393.5 243.6L396.4 241.8L399.4 239.9L402.4 238.0L405.3 236.2L408.3 234.4L411.3 232.6L414.2 230.8L417.2 229.0L420.2 227.2L423.2 225.4L426.1 223.6L429.1 221.9L432.1 220.1L435.0 218.4L438.0 216.6L441.0 214.9L443.9 213.2L446.9 211.5L449.9 209.8L452.9 208.1L455.8 206.4L458.8 204.7L461.8 203.1L464.7 201.4L467.7 199.8L470.7 198.1L473.7 196.5L476.6 194.9L479.6 193.2L482.6 191.6L485.5 190.0L488.5 188.4L491.5 186.8L494.4 185.2L497.4 183.6L500.4 182.1L503.4 180.5L506.3 178.9L509.3 177.4L512.3 175.8L515.2 174.3L518.2 172.8L521.2 171.2L524.2 169.7L527.1 168.2L530.1 166.7L533.1 165.2L536.0 163.7L539.0 162.2L542.0 160.7L544.9 159.3L547.9 157.8L550.9 156.3L553.9 154.9L556.8 153.4L559.8 152.0L562.8 150.5L565.7 149.1L568.7 147.7L571.7 146.3L574.7 144.8L577.6 143.4L580.6 142.0L583.6 140.6L586.5 139.2L589.5 137.9L592.5 136.5L595.4 135.1L598.4 133.7L601.4 132.4L604.4 131.0L607.3 129.7L610.3 128.3L613.3 127.0L616.2 125.6L619.2 124.3L622.2 123.0L625.1 121.6L628.1 120.3L631.1 119.0L634.1 117.7L637.0 116.4L640.0 115.1L643.0 113.8L645.9 112.5L648.9 111.3L651.9 110.0L654.9 108.7L657.8 107.4L660.8 106.2L663.8 104.9L666.7 103.7L669.7 102.4L672.7 101.2L675.6 100.0L678.6 98.7L681.6 97.5L684.6 96.3L687.5 95.0L690.5 93.8L693.5 92.6L696.4 91.4L699.4 90.2L702.4 89.0L705.4 87.8L708.3 86.6L711.3 85.4L714.3 84.3L717.2 83.1L720.2 81.9L723.2 80.8L726.1 79.6L729.1 78.4L732.1 77.3L735.1 76.1L738.0 75.0L741.0 73.8L744.0 72.7L746.9 71.6L749.9 70.4L752.9 69.3L755.9 68.2L758.8 67.1L761.8 65.9L764.8 64.8L767.7 63.7L770.7 62.6L773.7 61.5L776.6 60.4L779.6 59.3L782.6 58.3L785.6 57.2L788.5 56.1L791.5 55.0L794.5 53.9L797.4 52.9L800.4 51.8L803.4 50.7L806.4 49.7" stroke="rgb(153,0,0)"/>
<path d="M238.3 432.5L239.1 429.7L240.0 426.9L240.8 424.3L241.7 421.7L242.6 419.2L243.4 416.8L244.3 414.4L245.1 412.1L246.0 409.9L246.8 407.7L247.7 405.5L248.6 403.5L249.4 401.4L250.3 399.5L251.1 397.5L252.0 395.6L252.8 393.8L253.7 392.0L254.5 390.2L255.4 388.4L256.3 386.7L257.1 385.1L258.0 383.4L258.8 381.8L259.7 380.2L260.5 378.7L261.4 377.1L262.2 375.6L263.1 374.2L264.0 372.7L264.8 371.3L265.7 369.9L266.5 368.5L267.4 367.1L268.2 365.8L269.1 364.4L269.9 363.1L270.8 361.8L271.7 360.6L274.6 356.3L277.6 352.2L280.6 348.3L283.5 344.5L286.5 340.9L289.5 337.4L292.5 334.0L295.4 330.7L298.4 327.5L301.4 324.5L304.3 321.5L307.3 318.5L310.3 315.7L313.2 312.9L316.2 310.2L319.2 307.6L322.2 305.0L325.1 302.4L328.1 299.9L331.1 297.5L334.0 295.1L337.0 292.7L340.0 290.4L343.0 288.1L345.9 285.8L348.9 283.6L351.9 281.4L354.8 279.3L357.8 277.1L360.8 275.0L363.7 272.9L366.7 270.8L369.7 268.8L372.7 266.8L375.6 264.8L378.6 262.8L381.6 260.8L384.5 258.8L387.5 256.9L390.5 255.0L393.5 253.1L396.4 251.2L399.4 249.3L402.4 247.4L405.3 245.6L408.3 243.7L411.3 241.9L414.2 240.1L417.2 238.2L420.2 236.4L423.2 234.6L426.1 232.8L429.1 231.1L432.1 229.3L435.0 227.5L438.0 225.8L441.0 224.0L443.9 222.3L446.9 220.5L449.9 218.8L452.9 217.1L455.8 215.4L458.8 213.6L461.8 211.9L464.7 210.2L467.7 208.5L470.7 206.9L473.7 205.2L476.6 203.5L479.6 201.8L482.6 200.2L485.5 198.5L488.5 196.9L491.5 195.2L494.4 193.6L497.4 192.0L500.4 190.3L503.4 188.7L506.3 187.1L509.3 185.5L512.3 183.9L515.2 182.3L518.2 180.7L521.2 179.1L524.2 177.5L527.1 176.0L530.1 174.4L533.1 172.8L536.0 171.3L539.0 169.7L542.0 168.2L544.9 166.7L547.9 165.1L550.9 163.6L553.9 162.1L556.8 160.6L559.8 159.1L562.8 157.6L565.7 156.1L568.7 154.6L571.7 153.1L574.7 151.6L577.6 150.1L580.6 148.7L583.6 147.2L586.5 145.8L589.5 144.3L592.5 142.9L595.4 141.4L598.4 140.0L601.4 138.6L604.4 137.2L607.3 135.8L610.3 134.4L613.3 133.0L616.2 131.6L619.2 130.2L622.2 128.8L625.1 127.4L628.1 126.1L631.1 124.7L634.1 123.4L637.0 122.0L640.0 120.7L643.0 119.3L645.9 118.0L648.9 116.7L651.9 115.4L654.9 114.0L657.8 112.7L660.8 111.4L663.8 110.1L666.7 108.8L669.7 107.6L672.7 106.3L675.6 105.0L678.6 103.7L681.6 102.5L684.6 101.2L687.5 100.0L690.5 98.7L693.5 97.5L696.4 96.3L699.4 95.0L702.4 93.8L705.4 92.6L708.3 91.4L711.3 90.2L714.3 89.0L717.2 87.8L720.2 86.6L723.2 85.4L726.1 84.2L729.1 83.1L732.1 81.9L735.1 80.7L738.0 79.6L741.0 78.4L744.0 77.3L746.9 76.1L749.9 75.0L752.9 73.8L755.9 72.7L758.8 71.6L761.8 70.5L764.8 69.4L767.7 68.3L770.7 67.1L773.7 66.0L776.6 65.0L779.6 63.9L782.6 62.8L785.6 61.7L788.5 60.6L791.5 59.5L794.5 58.5L797.4 57.4L800.4 56.4L803.4 55.3L806.4 54.3" stroke="rgb(128,0,0)"/>
<path d="M241.7 431.5L242.6 429.0L243.4 426.6L244.3 424.2L245.1 421.9L246.0 419.7L246.8 417.5L247.7 415.4L248.6 413.3L249.4 411.3L250.3 409.3L251.1 407.3L252.0 405.4L252.8 403.6L253.7 401.8L254.5 400.0L255.4 398.2L256.3 396.5L257.1 394.9L258.0 393.2L258.8 391.6L259.7 390.0L260.5 388.4L261.4 386.9L262.2 385.4L263.1 383.9L264.0 382.5L264.8 381.0L265.7 379.6L266.5 378.2L267.4 376.9L268.2 375.5L269.1 374.2L269.9 372.9L270.8 371.6L271.7 370.3L274.6 366.0L277.6 361.9L280.6 358.0L283.5 354.2L286.5 350.5L289.5 347.0L292.5 343.6L295.4 340.3L298.4 337.1L301.4 334.0L304.3 331.0L307.3 328.0L310.3 325.1L313.2 322.3L316.2 319.6L319.2 316.9L322.2 314.3L325.1 311.7L328.1 309.2L331.1 306.7L334.0 304.3L337.0 301.9L340.0 299.5L343.0 297.2L345.9 294.9L348.9 292.6L351.9 290.4L354.8 288.2L357.8 286.0L360.8 283.8L363.7 281.7L366.7 279.6L369.7 277.5L372.7 275.4L375.6 273.3L378.6 271.3L381.6 269.3L384.5 267.3L387.5 265.3L390.5 263.3L393.5 261.3L396.4 259.4L399.4 257.5L402.4 255.5L405.3 253.6L408.3 251.7L411.3 249.8L414.2 247.9L417.2 246.1L420.2 244.2L423.2 242.4L426.1 240.5L429.1 238.7L432.1 236.8L435.0 235.0L438.0 233.2L441.0 231.4L443.9 229.6L446.9 227.8L449.9 226.0L452.9 224.3L455.8 222.5L458.8 220.7L461.8 219.0L464.7 217.2L467.7 215.5L470.7 213.7L473.7 212.0L476.6 210.3L479.6 208.6L482.6 206.9L485.5 205.2L488.5 203.5L491.5 201.8L494.4 200.1L497.4 198.4L500.4 196.7L503.4 195.1L506.3 193.4L509.3 191.8L512.3 190.1L515.2 188.5L518.2 186.8L521.2 185.2L524.2 183.6L527.1 182.0L530.1 180.4L533.1 178.8L536.0 177.2L539.0 175.6L542.0 174.0L544.9 172.4L547.9 170.9L550.9 169.3L553.9 167.8L556.8 166.2L559.8 164.7L562.8 163.1L565.7 161.6L568.7 160.1L571.7 158.6L574.7 157.1L577.6 155.5L580.6 154.1L583.6 152.6L586.5 151.1L589.5 149.6L592.5 148.1L595.4 146.7L598.4 145.2L601.4 143.8L604.4 142.3L607.3 140.9L610.3 139.5L613.3 138.0L616.2 136.6L619.2 135.2L622.2 133.8L625.1 132.4L628.1 131.0L631.1 129.6L634.1 128.3L637.0 126.9L640.0 125.5L643.0 124.2L645.9 122.8L648.9 121.5L651.9 120.1L654.9 118.8L657.8 117.5L660.8 116.1L663.8 114.8L666.7 113.5L669.7 112.2L672.7 110.9L675.6 109.6L678.6 108.3L681.6 107.1L684.6 105.8L687.5 104.5L690.5 103.3L693.5 102.0L696.4 100.7L699.4 99.5L702.4 98.3L705.4 97.0L708.3 95.8L711.3 94.6L714.3 93.4L717.2 92.2L720.2 91.0L723.2 89.8L726.1 88.6L729.1 87.4L732.1 86.2L735.1 85.0L738.0 83.8L741.0 82.7L744.0 81.5L746.9 80.3L749.9 79.2L752.9 78.0L755.9 76.9L758.8 75.8L761.8 74.6L764.8 73.5L767.7 72.4L770.7 71.3L773.7 70.2L776.6 69.1L779.6 67.9L782.6 66.9L785.6 65.8L788.5 64.7L791.5 63.6L794.5 62.5L797.4 61.4L800.4 60.4L803.4 59.3L806.4 58.2" stroke="rgb(102,0,0)"/>
</g>
<line x1="420.5" y1="16" x2="420.5" y2="399" stroke="#000" stroke-opacity="0.40" stroke-width="1"/>
<path d="M272.6 401.2L272.6 360.0L272.5 358.2L272.5 356.5L272.5 354.7L272.5 352.9L272.6 351.1L272.6 349.4L272.6 347.6L272.6 345.8L272.6 344.1L272.6 342.3L272.7 340.5L272.7 338.7L272.8 337.0L272.9 335.2L272.9 333.4L273.0 331.7L273.1 329.9L273.3 328.1L273.4 326.3L273.5 324.6L273.7 322.8L273.8 321.0L274.0 319.2L274.2 317.5L274.4 315.7L274.6 313.9L274.9 312.2L275.1 310.4L275.4 308.6L275.6 306.8L275.9 305.1L276.2 303.3L276.5 301.5L276.8 299.8L277.2 298.0L277.5 296.2L277.9 294.4L278.3 292.7L278.7 290.9L279.1 289.1L279.5 287.4L279.9 285.6L280.3 283.8L280.8 282.0L281.2 280.3L281.7 278.5L282.2 276.7L282.7 275.0L283.2 273.2L283.7 271.4L284.2 269.6L284.7 267.9L285.3 266.1L285.8 264.3L286.4 262.6L286.9 260.8L287.5 259.0L288.1 257.2L288.7 255.5L289.3 253.7L289.9 251.9L290.5 250.1L291.1 248.4L291.7 246.6L292.3 244.8L293.0 243.1L293.6 241.3L294.3 239.5L294.9 237.7L295.6 236.0L296.2 234.2L296.9 232.4L297.5 230.7L298.2 228.9L298.9 227.1L299.6 225.3L300.3 223.6L300.9 221.8L301.6 220.0L302.3 218.3L303.0 216.5L303.7 214.7L304.5 212.9L305.2 211.2L305.9 209.4L306.6 207.6L307.3 205.9L308.1 204.1L308.8 202.3L309.5 200.5L310.3 198.8L311.0 197.0L311.7 195.2L312.5 193.4L313.3 191.7L314.0 189.9L314.8 188.1L315.6 186.4L316.3 184.6L317.1 182.8L317.9 181.0L318.7 179.3L319.5 177.5L320.3 175.7L321.1 174.0L321.9 172.2L322.7 170.4L323.5 168.6L324.3 166.9L325.2 165.1L326.0 163.3L326.9 161.6L327.7 159.8L328.6 158.0L329.5 156.2L330.3 154.5L331.2 152.7L332.1 150.9L333.0 149.2L333.9 147.4L334.8 145.6L335.7 143.8L336.6 142.1L337.6 140.3L338.5 138.5L339.5 136.8L340.4 135.0L341.4 133.2L342.3 131.4L343.3 129.7L344.3 127.9L345.3 126.1L346.3 124.3L347.3 122.6L348.3 120.8L349.3 119.0L350.3 117.3L351.4 115.5L352.4 113.7L353.5 111.9L354.5 110.2L355.5 108.4L356.6 106.6L357.6 104.9L358.7 103.1L359.8 101.3L360.8 99.5L361.9 97.8L362.9 96.0" stroke="#009900" stroke-width="4.8" stroke-linecap="butt" clip-path="url(#gc)"/>
<path d="M310.6 401.2L310.6 320.0L310.6 318.5L310.6 317.1L310.6 315.6L310.7 314.2L310.7 312.7L310.7 311.3L310.8 309.8L310.8 308.3L310.8 306.9L310.9 305.4L310.9 304.0L311.0 302.5L311.0 301.0L311.1 299.6L311.1 298.1L311.1 296.7L311.2 295.2L311.2 293.8L311.2 292.3L311.3 290.8L311.3 289.4L311.3 287.9L311.4 286.5L311.4 285.0L311.4 283.6L311.4 282.1L311.4 280.6L311.5 279.2L311.5 277.7L311.5 276.3L311.5 274.8L311.6 273.4L311.6 271.9L311.6 270.4L311.6 269.0L311.7 267.5L311.7 266.1L311.7 264.6L311.8 263.1L311.8 261.7L311.8 260.2L311.9 258.8L312.0 257.3L312.0 255.9L312.1 254.4L312.2 252.9L312.2 251.5L312.3 250.0L312.4 248.6L312.5 247.1L312.7 245.7L312.8 244.2L312.9 242.7L313.1 241.3L313.2 239.8L313.4 238.4L313.6 236.9L313.7 235.5L313.9 234.0L314.1 232.5L314.4 231.1L314.6 229.6L314.8 228.2L315.1 226.7L315.4 225.2L315.6 223.8L315.9 222.3L316.2 220.9L316.5 219.4L316.9 218.0L317.2 216.5L317.6 215.0L317.9 213.6L318.3 212.1L318.7 210.7L319.1 209.2L319.5 207.8L319.9 206.3L320.4 204.8L320.8 203.4L321.3 201.9L321.7 200.5L322.2 199.0L322.7 197.6L323.2 196.1L323.7 194.6L324.2 193.2L324.7 191.7L325.2 190.3L325.8 188.8L326.3 187.3L326.9 185.9L327.4 184.4L328.0 183.0L328.6 181.5L329.2 180.1L329.7 178.6L330.3 177.1L330.9 175.7L331.5 174.2L332.1 172.8L332.7 171.3L333.3 169.9L333.9 168.4L334.5 166.9L335.1 165.5L335.7 164.0L336.3 162.6L336.9 161.1L337.5 159.7L338.1 158.2L338.7 156.7L339.3 155.3L339.9 153.8L340.5 152.4L341.1 150.9L341.7 149.4L342.2 148.0L342.8 146.5L343.4 145.1L344.0 143.6L344.6 142.2L345.1 140.7L345.7 139.2L346.3 137.8L346.9 136.3L347.4 134.9L348.0 133.4L348.6 132.0L349.1 130.5L349.7 129.0L350.3 127.6L350.9 126.1L351.4 124.7L352.0 123.2L352.6 121.8L353.2 120.3L353.8 118.8L354.4 117.4L355.1 115.9L355.7 114.5L356.4 113.0L357.0 111.5L357.7 110.1L358.5 108.6L359.2 107.2L360.0 105.7L360.8 104.3L361.6 102.8" stroke="#0000ff" stroke-width="4.7" stroke-dasharray="7.35 2" stroke-linecap="butt"/>
</g>
<g font-family="Liberation Sans, sans-serif" font-weight="bold" fill="#000" font-size="27" opacity="0.999">
<text transform="translate(204.74 427.70) scale(1 1.07)">0</text>
<text transform="translate(345.76 427.70) scale(1 1.07)">50</text>
<path d="M497.34 408.30L497.34 427.40L492.94 427.40L492.94 414.30L488.74 414.30L488.74 411.40Q493.64 411.00 494.44 408.30Z" fill="#000"/><text transform="translate(501.79 427.70) scale(1 1.07)">00</text>
<path d="M645.86 408.30L645.86 427.40L641.46 427.40L641.46 414.30L637.26 414.30L637.26 411.40Q642.16 411.00 642.96 408.30Z" fill="#000"/><text transform="translate(650.32 427.70) scale(1 1.07)">50</text>
<text transform="translate(783.83 427.70) scale(1 1.07)">200</text>
<path d="M192.14 7.10L192.14 26.20L187.74 26.20L187.74 13.10L183.54 13.10L183.54 10.20Q188.44 9.80 189.24 7.10Z" fill="#000"/>
<text transform="translate(159.07 90.17) scale(1 1.07)">0.</text><path d="M192.14 70.77L192.14 89.87L187.74 89.87L187.74 76.77L183.54 76.77L183.54 73.87Q188.44 73.47 189.24 70.77Z" fill="#000"/>
<text transform="translate(144.06 153.83) scale(1 1.07)">0.0</text><path d="M192.14 134.43L192.14 153.53L187.74 153.53L187.74 140.43L183.54 140.43L183.54 137.53Q188.44 137.13 189.24 134.43Z" fill="#000"/>
<text transform="translate(129.05 217.50) scale(1 1.07)">0.00</text><path d="M192.14 198.10L192.14 217.20L187.74 217.20L187.74 204.10L183.54 204.10L183.54 201.20Q188.44 200.80 189.24 198.10Z" fill="#000"/>
<path d="M153.73 262.37L153.73 281.47L149.33 281.47L149.33 268.37L145.13 268.37L145.13 265.47Q150.03 265.07 150.83 262.37Z" fill="#000"/><text transform="translate(158.19 281.77) scale(1 1.07)">0</text>
<rect x="174.0" y="264.52" width="10.5" height="1.9" fill="#000"/>
<text transform="translate(185.3 271.1) scale(1 1.07)" font-size="19">4</text>
<path d="M153.73 326.03L153.73 345.13L149.33 345.13L149.33 332.03L145.13 332.03L145.13 329.13Q150.03 328.73 150.83 326.03Z" fill="#000"/><text transform="translate(158.19 345.43) scale(1 1.07)">0</text>
<rect x="174.0" y="328.18" width="10.5" height="1.9" fill="#000"/>
<text transform="translate(185.3 334.7) scale(1 1.07)" font-size="19">5</text>
<path d="M153.73 389.70L153.73 408.80L149.33 408.80L149.33 395.70L145.13 395.70L145.13 392.80Q150.03 392.40 150.83 389.70Z" fill="#000"/><text transform="translate(158.19 409.10) scale(1 1.07)">0</text>
<rect x="174.0" y="391.85" width="10.5" height="1.9" fill="#000"/>
<text transform="translate(185.3 398.4) scale(1 1.07)" font-size="19">6</text>
<text x="-0.5" y="215.7">sfe</text>
<text x="39" y="221.1" font-size="19">SNR</text>
<rect x="79.7" y="215.0" width="10.2" height="1.8" fill="#000"/>
<text x="92.3" y="221.1" font-size="19" font-style="italic">C</text>
<text x="453" y="457.9" font-style="italic">R</text>
<text x="471" y="464.1" font-size="19">SNR</text>
<text x="518" y="457.9"><tspan font-family="Liberation Serif, serif" font-weight="normal">(</tspan>pc<tspan font-family="Liberation Serif, serif" font-weight="normal">)</tspan></text>
</g>
</svg>
</body></html>
